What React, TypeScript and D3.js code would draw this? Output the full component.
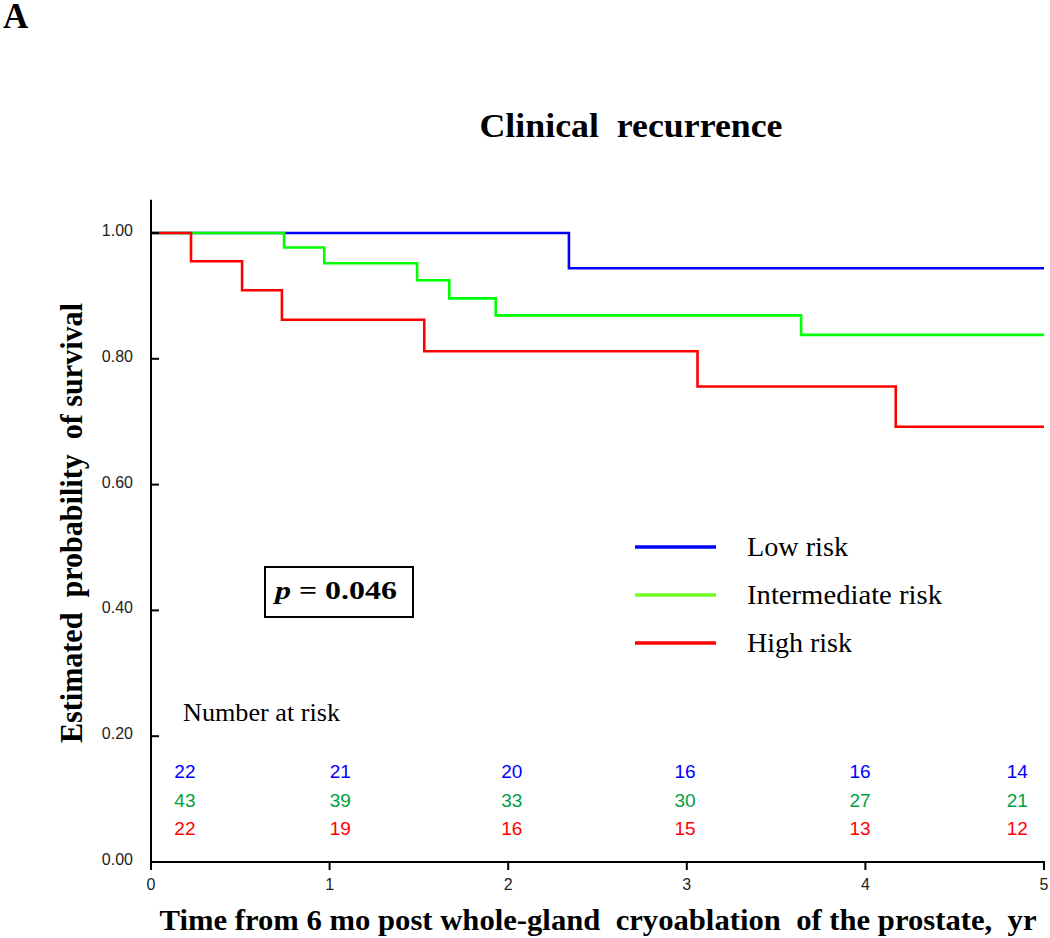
import React from "react";
import * as d3 from "d3";

const xTicks = [0, 1, 2, 3, 4, 5];
const yTicks = [0, 0.2, 0.4, 0.6, 0.8, 1.0];
const yTickLabels = ["0.00", "0.20", "0.40", "0.60", "0.80", "1.00"];

const seriesNames = ["Low risk", "Intermediate risk", "High risk"];
const lowDropTimes = [2.34];
const lowSurv = [0.944];
const midDropTimes = [0.745, 0.97, 1.49, 1.67, 1.93, 3.64];
const midSurv = [0.977, 0.952, 0.925, 0.896, 0.869, 0.838];
const highDropTimes = [0.224, 0.51, 0.733, 1.53, 3.06, 4.17];
const highSurv = [0.955, 0.909, 0.862, 0.812, 0.756, 0.692];

const riskLabelTimes = [0.19, 1.06, 2.02, 2.99, 3.97, 4.85];
const riskLow = [22, 21, 20, 16, 16, 14];
const riskMid = [43, 39, 33, 30, 27, 21];
const riskHigh = [22, 19, 16, 15, 13, 12];

const curveColors = ["#0000ff", "#00ff00", "#ff0000"];
const legendColors = ["#0000ff", "#70ff20", "#ff0000"];
const riskColors = ["#0000ff", "#00a040", "#ff0000"];

const W = 1050;
const H = 938;

export default function App() {
  const x = d3.scaleLinear().domain([0, 5]).range([151, 1044]);
  const y = d3.scaleLinear().domain([0, 1]).range([862, 233]);

  const build = (times: number[], surv: number[]) => {
    const pts: [number, number][] = [[0, 1]];
    times.forEach((t, i) => pts.push([t, surv[i]]));
    pts.push([5, surv[surv.length - 1]]);
    return pts;
  };
  const series = [
    build(lowDropTimes, lowSurv),
    build(midDropTimes, midSurv),
    build(highDropTimes, highSurv),
  ];
  const line = d3
    .line<[number, number]>()
    .x((d) => x(d[0]))
    .y((d) => y(d[1]))
    .curve(d3.curveStepAfter);

  const riskRows = [riskLow, riskMid, riskHigh];
  const serif = "'Liberation Serif', 'Times New Roman', serif";
  const sans = "'Liberation Sans', Arial, sans-serif";
  const pre = { whiteSpace: "pre" as const };

  return (
    <svg
      width={W}
      height={H}
      style={{ position: "absolute", left: 0, top: 0, background: "#fff" }}
    >
      <text x={3} y={28} fontFamily={serif} fontWeight="bold" fontSize={35}>
        A
      </text>
      <text
        x={631}
        y={137}
        textAnchor="middle"
        fontFamily={serif}
        fontWeight="bold"
        fontSize={34}
        textLength={303}
        lengthAdjust="spacingAndGlyphs"
        style={pre}
      >
        {"Clinical  recurrence"}
      </text>

      {series.map((s, i) => (
        <path
          key={i}
          d={line(s) || ""}
          fill="none"
          stroke={curveColors[i]}
          strokeWidth={2.6}
        />
      ))}

      <line x1={x(0)} x2={x(0)} y1={y(1.053)} y2={y(0)} stroke="#000" strokeWidth={2} />
      <line x1={x(0) - 1} x2={x(5) + 1} y1={y(0)} y2={y(0)} stroke="#000" strokeWidth={2} />
      {yTicks.map((v, i) => (
        <g key={"y" + i}>
          {v > 0 && (
            <line x1={x(0)} x2={x(0) + 8} y1={y(v)} y2={y(v)} stroke="#000" strokeWidth={2} />
          )}
          <text
            x={133}
            y={y(v) + 3}
            textAnchor="end"
            fontFamily={sans}
            fontSize={16}
            fill="#222"
          >
            {yTickLabels[i]}
          </text>
        </g>
      ))}
      {xTicks.map((t) => (
        <g key={"x" + t}>
          <line x1={x(t)} x2={x(t)} y1={y(0)} y2={y(0) + 8} stroke="#000" strokeWidth={2} />
          <text
            x={x(t)}
            y={y(0) + 28}
            textAnchor="middle"
            fontFamily={sans}
            fontSize={16}
            fill="#222"
          >
            {t}
          </text>
        </g>
      ))}

      <text
        transform={`translate(82, 523) rotate(-90)`}
        textAnchor="middle"
        fontFamily={serif}
        fontWeight="bold"
        fontSize={32}
        textLength={440}
        lengthAdjust="spacingAndGlyphs"
        style={pre}
      >
        {"Estimated  probability  of survival"}
      </text>
      <text
        x={598}
        y={930}
        textAnchor="middle"
        fontFamily={serif}
        fontWeight="bold"
        fontSize={30}
        textLength={877}
        lengthAdjust="spacingAndGlyphs"
        style={pre}
      >
        {"Time from 6 mo post whole-gland  cryoablation  of the prostate,  yr"}
      </text>

      {seriesNames.map((n, i) => {
        const ly = 547 + i * 48;
        const lens = [101, 195, 105];
        return (
          <g key={n}>
            <line x1={635} x2={716} y1={ly} y2={ly} stroke={legendColors[i]} strokeWidth={3.5} />
            <text
              x={747}
              y={ly + 9}
              fontFamily={serif}
              fontSize={28}
              textLength={lens[i]}
              lengthAdjust="spacingAndGlyphs"
            >
              {n}
            </text>
          </g>
        );
      })}

      <rect x={265} y={567} width={148} height={50} fill="none" stroke="#000" strokeWidth={2} />
      <text
        x={275}
        y={599}
        fontFamily={serif}
        fontWeight="bold"
        fontSize={26}
        textLength={122}
        lengthAdjust="spacingAndGlyphs"
      >
        <tspan fontStyle="italic">p</tspan> = 0.046
      </text>

      <text
        x={183}
        y={721}
        fontFamily={serif}
        fontSize={26}
        textLength={157}
        lengthAdjust="spacingAndGlyphs"
      >
        Number at risk
      </text>
      {riskRows.map((row, r) =>
        row.map((n, j) => (
          <text
            key={r + "-" + j}
            x={x(riskLabelTimes[j])}
            y={778 + r * 28.5}
            textAnchor="middle"
            fontFamily={sans}
            fontSize={19}
            fill={riskColors[r]}
          >
            {n}
          </text>
        ))
      )}
    </svg>
  );
}
